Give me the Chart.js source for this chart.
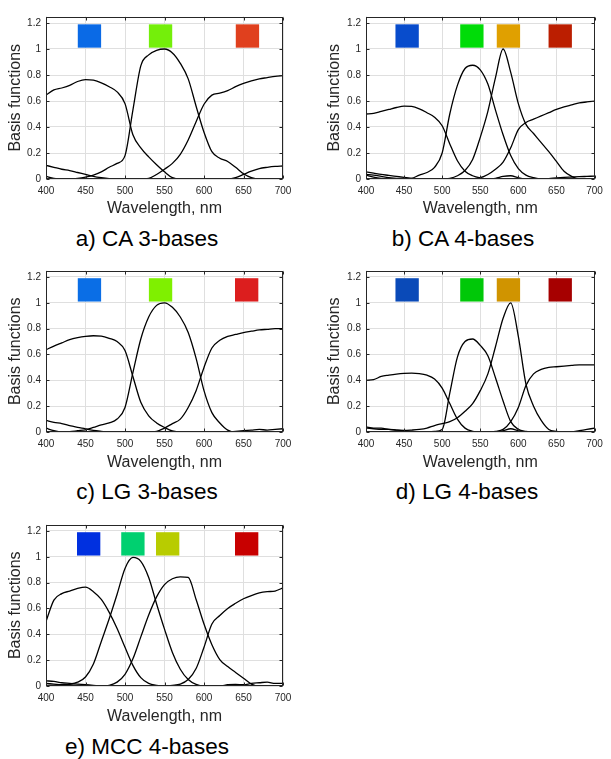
<!DOCTYPE html>
<html><head><meta charset="utf-8">
<script src="https://cdn.jsdelivr.net/npm/chart.js@4.4.1/dist/chart.umd.min.js"></script>
<style>
html,body{margin:0;padding:0;background:#fff;}
body{width:611px;height:759px;position:relative;overflow:hidden;font-family:"Liberation Sans",Arial,Helvetica,sans-serif;}
canvas{position:absolute;}
.cap{position:absolute;transform:translate(-50%,-50%);font-size:22.5px;color:#000;white-space:nowrap;line-height:1;}
</style></head><body>
<canvas id="chA" width="300" height="222" style="left:0;top:0"></canvas>
<canvas id="chB" width="311" height="222" style="left:300px;top:0"></canvas>
<canvas id="chC" width="300" height="222" style="left:0;top:254px"></canvas>
<canvas id="chD" width="311" height="222" style="left:300px;top:254px"></canvas>
<canvas id="chE" width="300" height="222" style="left:0;top:508px"></canvas>
<div class="cap" style="left:147px;top:239px">a) CA 3-bases</div>
<div class="cap" style="left:463px;top:239px">b) CA 4-bases</div>
<div class="cap" style="left:147px;top:492px">c) LG 3-bases</div>
<div class="cap" style="left:467px;top:492px">d) LG 4-bases</div>
<div class="cap" style="left:147px;top:747px">e) MCC 4-bases</div>
<script>
// ---------- data ----------
const wavelengths = [400,410,420,430,440,450,460,470,480,490,500,510,520,530,540,550,560,570,580,590,600,610,620,630,640,650,660,670,680,690,700];
const swatchLevel = 1.1;

// a) CA 3-bases
const ca3Basis1 = [0.645,0.685,0.70,0.72,0.75,0.765,0.76,0.74,0.71,0.67,0.58,0.34,0.24,0.17,0.11,0.055,0.01,0,0,0,0,0,0,0,0.01,0.035,0.06,0.08,0.09,0.097,0.10];
const ca3Basis2 = [0.02,0.005,0,0,0.005,0.015,0.03,0.055,0.09,0.12,0.18,0.53,0.87,0.955,0.99,1.0,0.97,0.89,0.77,0.56,0.36,0.21,0.16,0.135,0.09,0.04,0.01,0,0,0,0];
const ca3Basis3 = [0.105,0.09,0.075,0.065,0.05,0.035,0.02,0.01,0.003,0,0,0,0,0.005,0.035,0.075,0.12,0.19,0.30,0.44,0.575,0.645,0.66,0.68,0.71,0.735,0.755,0.77,0.78,0.79,0.795];
const ca3SwatchWl = [455,545,655];
const ca3SwatchColors = ['#0a6ae6','#74ef0a','#e0401e'];

// b) CA 4-bases
const ca4Basis1 = [0.50,0.505,0.52,0.535,0.55,0.56,0.558,0.54,0.51,0.475,0.41,0.27,0.14,0.06,0.025,0.008,0,0.005,0.02,0.025,0.01,0,0,0,0.003,0.008,0.012,0.015,0.018,0.02,0.022];
const ca4Basis2 = [0.035,0.03,0.02,0.01,0.005,0,0.005,0.03,0.05,0.09,0.20,0.50,0.72,0.85,0.875,0.84,0.73,0.53,0.34,0.18,0.08,0.03,0.01,0,0,0,0,0,0,0,0];
const ca4Basis3 = [0.03,0.015,0.005,0,0,0,0,0,0,0,0,0.005,0.025,0.065,0.15,0.32,0.52,0.78,1.0,0.82,0.58,0.42,0.35,0.28,0.21,0.135,0.06,0.02,0,0,0];
const ca4Basis4 = [0.055,0.045,0.035,0.028,0.02,0.012,0.005,0,0,0,0,0,0,0,0,0.01,0.035,0.075,0.13,0.24,0.38,0.435,0.46,0.485,0.51,0.535,0.555,0.57,0.585,0.593,0.598];
const ca4SwatchWl = [454,539,587,655];
const ca4SwatchColors = ['#084ccc','#00dc08','#e0a000','#bb1e00'];

// c) LG 3-bases
const lg3Basis1 = [0.637,0.665,0.69,0.715,0.73,0.74,0.745,0.742,0.725,0.70,0.63,0.43,0.23,0.125,0.07,0.035,0.008,0,0,0,0,0,0,0,0.005,0.01,0.015,0.02,0.015,0.02,0.025];
const lg3Basis2 = [0.03,0.01,0,0.003,0.01,0.017,0.035,0.055,0.07,0.10,0.19,0.46,0.72,0.89,0.98,1.0,0.965,0.89,0.77,0.57,0.32,0.15,0.07,0.015,0,0,0,0,0,0,0];
const lg3Basis3 = [0.09,0.075,0.065,0.05,0.035,0.025,0.012,0.005,0,0,0,0,0,0,0.005,0.03,0.065,0.10,0.19,0.32,0.50,0.65,0.71,0.74,0.755,0.77,0.78,0.79,0.795,0.80,0.80];
const lg3SwatchWl = [455,545,654];
const lg3SwatchColors = ['#0a6ee6','#7ff000','#dc1e1e'];

// d) LG 4-bases
const lg4Basis1 = [0.40,0.405,0.43,0.44,0.448,0.453,0.455,0.452,0.44,0.41,0.34,0.22,0.10,0.03,0.005,0,0,0,0.01,0.025,0.01,0,0,0,0,0,0,0,0.01,0.02,0.03];
const lg4Basis2 = [0,0,0,0,0,0,0,0,0,0.005,0.02,0.30,0.58,0.70,0.72,0.67,0.59,0.42,0.24,0.08,0.02,0.005,0,0,0,0,0,0,0,0,0];
const lg4Basis3 = [0.03,0.025,0.02,0.02,0.015,0.012,0.015,0.02,0.03,0.05,0.065,0.08,0.11,0.16,0.22,0.32,0.45,0.66,0.88,1.0,0.74,0.37,0.20,0.09,0.02,0.005,0,0,0,0,0];
const lg4Basis4 = [0.04,0.03,0.03,0.02,0.015,0.01,0.005,0,0,0,0,0,0,0,0,0,0,0.005,0.02,0.08,0.19,0.36,0.45,0.485,0.50,0.505,0.51,0.515,0.52,0.52,0.52];
const lg4SwatchWl = [454,539,587,655];
const lg4SwatchColors = ['#0a4ab8','#00c808','#d09400','#a60000'];

// e) MCC 4-bases
const mcc4Basis1 = [0.50,0.665,0.715,0.735,0.755,0.765,0.73,0.67,0.57,0.445,0.30,0.16,0.065,0.02,0.005,0,0,0,0,0,0,0,0,0.01,0.012,0.01,0.02,0.025,0.03,0.02,0.02];
const mcc4Basis2 = [0.005,0.005,0.01,0.015,0.03,0.07,0.17,0.345,0.52,0.71,0.91,0.995,0.965,0.84,0.635,0.44,0.26,0.13,0.05,0.012,0,0,0,0,0,0,0,0,0,0,0];
const mcc4Basis3 = [0.02,0.015,0.01,0.01,0.005,0.005,0,0,0.005,0.03,0.09,0.21,0.38,0.55,0.69,0.785,0.83,0.845,0.84,0.67,0.48,0.32,0.205,0.15,0.105,0.06,0.015,0,0,0,0];
const mcc4Basis4 = [0.04,0.035,0.025,0.02,0.015,0.01,0.005,0,0,0,0,0,0,0,0,0,0.005,0.015,0.05,0.135,0.30,0.48,0.545,0.60,0.64,0.675,0.70,0.72,0.73,0.735,0.76];
const mcc4SwatchWl = [454,510,554,654];
const mcc4SwatchColors = ['#0030e0','#00d070','#b8cc00','#c80000'];

// ---------- drawing ----------
const FONT = '"Liberation Sans", Arial, Helvetica, sans-serif';
const AXIS_COLOR = '#262626';

const framePlugin = {
  id: 'frame',
  afterDatasetsDraw(chart) {
    const {ctx, chartArea: a, scales} = chart;
    const x = scales.x, y = scales.y;
    ctx.save();
    ctx.strokeStyle = AXIS_COLOR;
    ctx.lineWidth = 1;
    const L = Math.round(a.left) + 0.5, R = Math.round(a.right) - 0.5;
    const T = Math.round(a.top) + 0.5, B = Math.round(a.bottom) - 0.5;
    ctx.strokeRect(L, T, R - L, B - T);
    ctx.beginPath();
    x.ticks.forEach(t => {
      const px = Math.round(x.getPixelForValue(t.value)) + 0.5;
      ctx.moveTo(px, B); ctx.lineTo(px, B - 3);
      ctx.moveTo(px, T); ctx.lineTo(px, T + 3);
    });
    y.ticks.forEach(t => {
      const py = Math.round(y.getPixelForValue(t.value)) + 0.5;
      ctx.moveTo(L, py); ctx.lineTo(L + 3, py);
      ctx.moveTo(R, py); ctx.lineTo(R - 3, py);
    });
    ctx.stroke();
    ctx.restore();
  }
};

function makeChart(id, curves, swatchWl, swatchColors, g) {
  const canvas = document.getElementById(id);
  const H = canvas.height, W = canvas.width;
  const datasets = [{
    type: 'scatter',
    data: swatchWl.map(w => ({x: w, y: swatchLevel})),
    backgroundColor: swatchColors,
    borderWidth: 0,
    pointStyle: 'rect',
    pointRadius: 16.5,
    pointHoverRadius: 16.5,
    showLine: false,
    clip: false
  }];
  curves.forEach(c => datasets.push({
    type: 'line',
    data: wavelengths.map((w, i) => ({x: w, y: c[i]})),
    borderColor: '#000',
    borderWidth: 1.3,
    pointRadius: 0,
    fill: false,
    cubicInterpolationMode: 'monotone'
  }));
  return new Chart(canvas, {
    type: 'line',
    data: {datasets},
    options: {
      responsive: false,
      animation: false,
      devicePixelRatio: 1,
      layout: {padding: {left: g.padL, right: W - g.right, top: g.top, bottom: 0}},
      plugins: {legend: {display: false}, tooltip: {enabled: false}},
      scales: {
        x: {
          type: 'linear', min: 400, max: 700,
          border: {display: false},
          grid: {color: '#dfdfdf', lineWidth: 1, drawTicks: false},
          ticks: {stepSize: 50, padding: 6, color: AXIS_COLOR, font: {family: FONT, size: 10}, maxRotation: 0, includeBounds: false},
          title: {display: true, text: 'Wavelength, nm', color: AXIS_COLOR, font: {family: FONT, size: 16, lineHeight: 1.2}, padding: {top: 0, bottom: 3.5}},
          afterFit: s => { s.height = H - g.bottom; }
        },
        y: {
          type: 'linear', min: 0, max: 1.25,
          border: {display: false},
          grid: {color: '#dfdfdf', lineWidth: 1, drawTicks: false},
          ticks: {stepSize: 0.2, padding: 5, color: AXIS_COLOR, font: {family: FONT, size: 10}, includeBounds: false,
                  callback: v => String(Math.round(v * 10) / 10)},
          title: {display: true, text: 'Basis functions', color: AXIS_COLOR, font: {family: FONT, size: 16, lineHeight: 1.2}, padding: {top: g.titleX - g.padL - 9.6, bottom: 0}},
          afterFit: s => { s.width = g.left - g.padL; }
        }
      }
    },
    plugins: [framePlugin]
  });
}

makeChart('chA', [ca3Basis1, ca3Basis2, ca3Basis3], ca3SwatchWl, ca3SwatchColors, {padL: 0, left: 46, right: 283, top: 7, bottom: 179, titleX: 16});
makeChart('chB', [ca4Basis1, ca4Basis2, ca4Basis3, ca4Basis4], ca4SwatchWl, ca4SwatchColors, {padL: 19, left: 66, right: 302, top: 7, bottom: 179, titleX: 35});
makeChart('chC', [lg3Basis1, lg3Basis2, lg3Basis3], lg3SwatchWl, lg3SwatchColors, {padL: 0, left: 46, right: 283, top: 8, bottom: 178, titleX: 16});
makeChart('chD', [lg4Basis1, lg4Basis2, lg4Basis3, lg4Basis4], lg4SwatchWl, lg4SwatchColors, {padL: 19, left: 66, right: 302, top: 8, bottom: 178, titleX: 35});
makeChart('chE', [mcc4Basis1, mcc4Basis2, mcc4Basis3, mcc4Basis4], mcc4SwatchWl, mcc4SwatchColors, {padL: 0, left: 46, right: 283, top: 7, bottom: 178, titleX: 16});
</script>
</body></html>
